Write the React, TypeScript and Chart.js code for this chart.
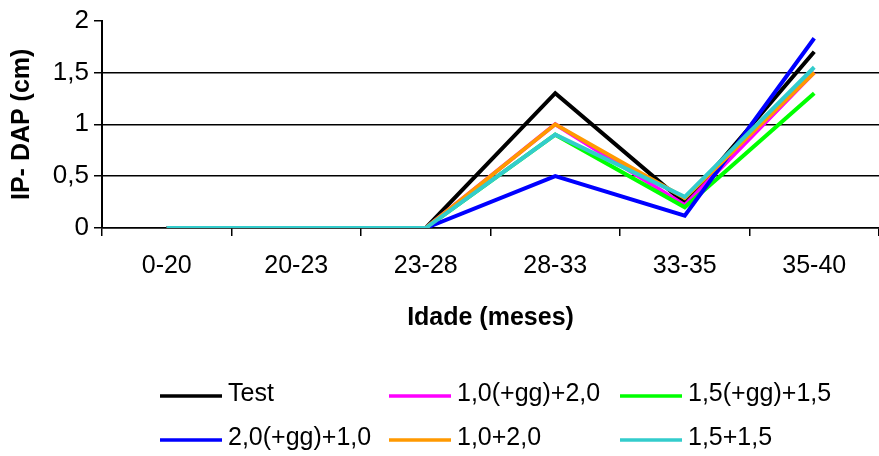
import React, { useEffect, useRef } from "react";
import { Chart, registerables } from "chart.js";

Chart.register(...registerables);

const categories = ["0-20", "20-23", "23-28", "28-33", "33-35", "35-40"];
const yTicks = [0, 0.5, 1, 1.5, 2];

const seriesNames = ["Test", "1,0(+gg)+2,0", "1,5(+gg)+1,5", "2,0(+gg)+1,0", "1,0+2,0", "1,5+1,5"];
const test = [0, 0, 0, 1.3, 0.24, 1.7];
const pink = [0, 0, 0, 1.0, 0.22, 1.5];
const green = [0, 0, 0, 0.9, 0.2, 1.3];
const blue = [0, 0, 0, 0.5, 0.12, 1.83];
const orange = [0, 0, 0, 1.0, 0.29, 1.5];
const cyan = [0, 0, 0, 0.9, 0.3, 1.55];
const seriesValues = [test, pink, green, blue, orange, cyan];
const seriesColors = ["#000000", "#FF00FF", "#00FF00", "#0000FF", "#FF9900", "#33CCCC"];

const FONT = "'Liberation Sans', Arial, sans-serif";

const legendPlugin = {
  id: "gridLegend",
  afterDraw(chart: any) {
    const ctx = chart.ctx;
    const colX = [160, 389, 620];
    const rowY = [396, 440];
    const lineLen = 62;
    ctx.save();
    ctx.font = `25px ${FONT}`;
    ctx.textBaseline = "middle";
    ctx.textAlign = "left";
    chart.data.datasets.forEach((ds: any, i: number) => {
      const x = colX[i % 3];
      const y = rowY[Math.floor(i / 3)];
      ctx.strokeStyle = ds.borderColor;
      ctx.lineWidth = 3.5;
      ctx.beginPath();
      ctx.moveTo(x, y);
      ctx.lineTo(x + lineLen, y);
      ctx.stroke();
      ctx.fillStyle = "#000";
      ctx.fillText(ds.label, x + lineLen + 6, y - 2);
    });
    ctx.restore();
  },
};

export default function App() {
  const ref = useRef<HTMLCanvasElement>(null);
  useEffect(() => {
    if (!ref.current) return;
    const chart = new Chart(ref.current, {
      type: "line",
      data: {
        labels: categories,
        datasets: seriesNames.map((name, i) => ({
          label: name,
          data: seriesValues[i],
          borderColor: seriesColors[i],
          backgroundColor: seriesColors[i],
          borderWidth: 4,
          pointRadius: 0,
          tension: 0,
          fill: false,
          order: seriesNames.length - i,
        })),
      },
      options: {
        responsive: false,
        animation: false,
        devicePixelRatio: 1,
        layout: { padding: { left: 0, top: 20, right: 0, bottom: 118 } },
        plugins: {
          legend: { display: false },
          tooltip: { enabled: false },
        },
        scales: {
          x: {
            type: "category",
            offset: true,
            afterFit(scale: any) {
              scale.height = 110;
            },
            border: { display: true, color: "#000", width: 1.5 },
            grid: {
              offset: true,
              drawOnChartArea: false,
              drawTicks: true,
              tickLength: 8,
              color: "#000",
              tickColor: "#000",
              lineWidth: 1.5,
            },
            ticks: {
              color: "#000",
              font: { family: FONT, size: 25 },
              padding: 15,
              maxRotation: 0,
              autoSkip: false,
            },
            title: {
              display: true,
              text: "Idade (meses)",
              color: "#000",
              font: { family: FONT, size: 25, weight: "bold" },
              padding: { top: 0, bottom: 5 },
            },
          },
          y: {
            min: 0,
            max: 2,
            afterFit(scale: any) {
              scale.width = 102;
            },
            afterBuildTicks(scale: any) {
              scale.ticks = yTicks.map((v) => ({ value: v }));
            },
            border: { display: true, color: "#000", width: 2 },
            grid: {
              drawOnChartArea: true,
              drawTicks: true,
              tickLength: 8,
              lineWidth: 1.5,
              color: (c: any) => (c.tick && c.tick.value === 2 ? "rgba(0,0,0,0)" : "#000"),
              tickColor: "#000",
            },
            ticks: {
              color: "#000",
              font: { family: FONT, size: 26 },
              padding: 5,
              callback: (v: any) => String(v).replace(".", ","),
            },
            title: {
              display: true,
              text: "IP- DAP (cm)",
              color: "#000",
              font: { family: FONT, size: 25, weight: "bold" },
              padding: { top: 7, bottom: 0 },
            },
          },
        },
      },
      plugins: [legendPlugin],
    });
    return () => chart.destroy();
  }, []);
  return (
    <div style={{ position: "absolute", left: 0, top: 0, width: 879, height: 456, background: "#fff" }}>
      <canvas ref={ref} width={879} height={456} style={{ display: "block", width: 879, height: 456 }} />
    </div>
  );
}
